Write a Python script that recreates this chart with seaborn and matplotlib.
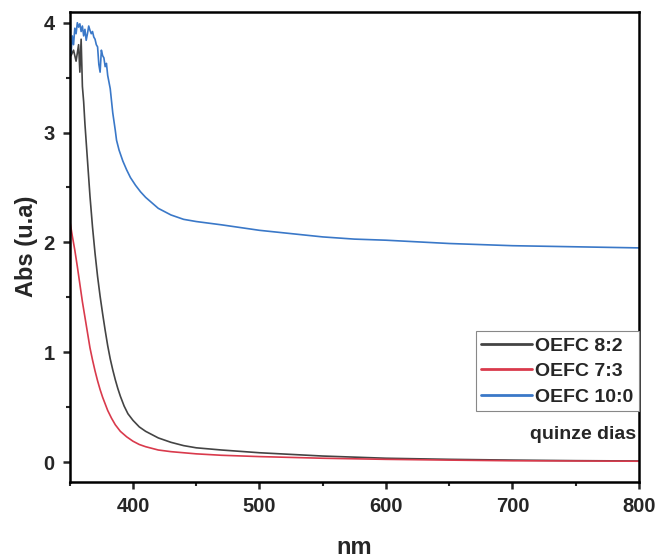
import numpy as np
import pandas as pd
import matplotlib
matplotlib.use("Agg")
import matplotlib.pyplot as plt
from matplotlib.ticker import MultipleLocator
import seaborn as sns

# UV-Vis absorbance spectra (wavelength in nm, absorbance in u.a.)
nm_82 = [351, 353, 355, 357, 358, 359, 360, 361, 362, 364, 366, 368, 370, 372,
         374, 376, 378, 380, 382, 384, 386, 388, 390, 393, 396, 400, 405, 410,
         415, 420, 430, 440, 450, 470, 500, 550, 600, 650, 700, 750, 800]
abs_82 = [3.70, 3.75, 3.65, 3.80, 3.55, 3.85, 3.42, 3.28, 3.08, 2.75, 2.42, 2.14,
          1.90, 1.69, 1.51, 1.35, 1.20, 1.06, 0.94, 0.84, 0.75, 0.67, 0.60, 0.51,
          0.44, 0.38, 0.32, 0.28, 0.25, 0.22, 0.18, 0.15, 0.13, 0.11, 0.085,
          0.055, 0.035, 0.025, 0.018, 0.013, 0.010]

nm_73 = [350, 352, 354, 356, 358, 360, 362, 364, 366, 368, 370, 372, 374, 376,
         378, 380, 383, 386, 390, 395, 400, 405, 410, 420, 430, 440, 450, 470,
         500, 550, 600, 650, 700, 750, 800]
abs_73 = [2.20, 2.06, 1.93, 1.78, 1.62, 1.46, 1.32, 1.18, 1.04, 0.93, 0.83, 0.74,
          0.66, 0.59, 0.53, 0.47, 0.40, 0.34, 0.28, 0.23, 0.19, 0.16, 0.14, 0.11,
          0.095, 0.085, 0.075, 0.062, 0.050, 0.035, 0.025, 0.018, 0.012, 0.010,
          0.008]

nm_100 = [351, 352, 353, 354, 355, 356, 357, 358, 359, 360, 361, 362, 363, 364,
          365, 366, 367, 368, 369, 370, 371, 372, 373, 374, 375, 376, 377, 378,
          379, 380, 382, 384, 386, 387, 389, 392, 395, 398, 402, 406, 410, 414,
          420, 430, 440, 450, 470, 500, 525, 550, 575, 600, 650, 700, 750, 800]
abs_100 = [3.72, 3.88, 3.80, 3.95, 3.90, 4.00, 3.96, 3.99, 3.92, 3.97, 3.88, 3.94,
           3.84, 3.90, 3.97, 3.93, 3.90, 3.92, 3.87, 3.85, 3.80, 3.78, 3.62, 3.55,
           3.75, 3.70, 3.68, 3.60, 3.63, 3.52, 3.40, 3.18, 3.02, 2.93, 2.84, 2.74,
           2.66, 2.59, 2.52, 2.46, 2.41, 2.37, 2.31, 2.25, 2.21, 2.19, 2.16, 2.11,
           2.08, 2.05, 2.03, 2.02, 1.99, 1.97, 1.96, 1.95]

series_names = ["OEFC 8:2", "OEFC 7:3", "OEFC 10:0"]
series_colors = ["#444444", "#d93a4c", "#3a78c8"]

df = pd.concat([
    pd.DataFrame({"nm": nm_82, "Abs": abs_82, "amostra": series_names[0]}),
    pd.DataFrame({"nm": nm_73, "Abs": abs_73, "amostra": series_names[1]}),
    pd.DataFrame({"nm": nm_100, "Abs": abs_100, "amostra": series_names[2]}),
], ignore_index=True)

sns.set_style("ticks")
plt.rcParams["font.family"] = ["Liberation Sans", "DejaVu Sans"]
plt.rcParams["font.weight"] = "bold"

fig = plt.figure(figsize=(6.58, 5.59), dpi=100)
ax = fig.add_axes([0.106, 0.138, 0.865, 0.841])

sns.lineplot(data=df, x="nm", y="Abs", hue="amostra", hue_order=series_names,
             palette=series_colors, estimator=None, sort=False, linewidth=1.2,
             ax=ax)

ax.set_xlim(350, 800)
ax.set_ylim(-0.18, 4.1)
ax.xaxis.set_major_locator(MultipleLocator(100))
ax.xaxis.set_minor_locator(MultipleLocator(50))
ax.yaxis.set_major_locator(MultipleLocator(1))
ax.yaxis.set_minor_locator(MultipleLocator(0.5))
ax.tick_params(which="major", direction="out", length=5, width=1.8,
               labelsize=14.5)
ax.tick_params(axis="x", which="major", pad=6)
ax.tick_params(axis="y", which="major", pad=6)
ax.tick_params(which="minor", direction="out", length=3, width=1.5)
for lab in ax.get_xticklabels() + ax.get_yticklabels():
    lab.set_fontweight("bold")

for side in ["left", "right", "top", "bottom"]:
    ax.spines[side].set_visible(True)
    ax.spines[side].set_linewidth(1.8)
    ax.spines[side].set_color("black")

ax.set_xlabel("nm", fontsize=17, fontweight="bold", labelpad=14)
ax.set_ylabel("Abs (u.a)", fontsize=17, fontweight="bold", labelpad=4)

leg = ax.legend(loc="upper right", bbox_to_anchor=(1.0, 0.32), borderaxespad=0,
                handlelength=2.6, handletextpad=0.15,
                labelspacing=0.4, borderpad=0.3, fancybox=False, framealpha=1,
                prop={"weight": "bold", "size": 14})
leg.get_frame().set_edgecolor("#888888")
leg.get_frame().set_linewidth(0.8)
for line in leg.get_lines():
    line.set_linewidth(2.0)

ax.text(0.995, 0.10, "quinze dias", transform=ax.transAxes, ha="right",
        va="center", fontsize=14, fontweight="bold")

fig.savefig("out.png", dpi=100)
